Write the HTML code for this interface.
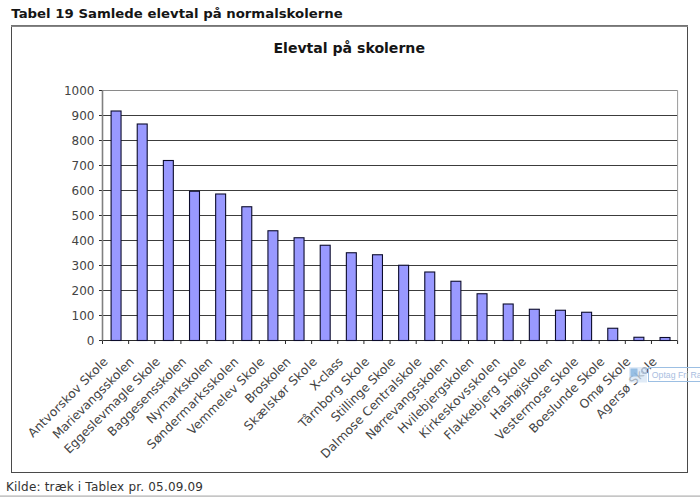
<!DOCTYPE html>
<html lang="da"><head><meta charset="utf-8"><title>Elevtal på skolerne</title>
<style>html,body{margin:0;padding:0;background:#fff;}body{width:700px;height:497px;overflow:hidden;position:relative;}svg{position:absolute;left:0;top:0;display:block;}text{font-family:'DejaVu Sans','Liberation Sans',sans-serif;}.lbl{font-size:12px;fill:#444444;}</style></head><body>
<svg width="700" height="497" viewBox="0 0 700 497">
<rect x="0" y="0" width="700" height="497" fill="#ffffff"/>
<text x="11.3" y="18.0" font-size="12.4" font-weight="bold" fill="#151515" textLength="331.5" lengthAdjust="spacingAndGlyphs">Tabel 19 Samlede elevtal på normalskolerne</text>
<rect x="11.5" y="25.5" width="676.0" height="447.0" fill="#fff" stroke="#4a4a4a" stroke-width="1"/>
<line x1="11.0" y1="26.1" x2="688.0" y2="26.1" stroke="#858585" stroke-width="1.7"/>
<text x="349.2" y="52.6" font-size="13.4" font-weight="bold" fill="#151515" text-anchor="middle" textLength="151.5" lengthAdjust="spacingAndGlyphs">Elevtal på skolerne</text>
<line x1="102.5" y1="340.50" x2="677.6" y2="340.50" stroke="#2a2a2a" stroke-width="1"/>
<line x1="99.0" y1="340.50" x2="102.5" y2="340.50" stroke="#2a2a2a" stroke-width="1"/>
<text class="lbl" x="94.5" y="344.90" text-anchor="end">0</text>
<line x1="102.5" y1="315.50" x2="677.6" y2="315.50" stroke="#3c3c3c" stroke-width="1"/>
<line x1="99.0" y1="315.50" x2="102.5" y2="315.50" stroke="#2a2a2a" stroke-width="1"/>
<text class="lbl" x="94.5" y="319.90" text-anchor="end">100</text>
<line x1="102.5" y1="290.50" x2="677.6" y2="290.50" stroke="#3c3c3c" stroke-width="1"/>
<line x1="99.0" y1="290.50" x2="102.5" y2="290.50" stroke="#2a2a2a" stroke-width="1"/>
<text class="lbl" x="94.5" y="294.90" text-anchor="end">200</text>
<line x1="102.5" y1="265.50" x2="677.6" y2="265.50" stroke="#3c3c3c" stroke-width="1"/>
<line x1="99.0" y1="265.50" x2="102.5" y2="265.50" stroke="#2a2a2a" stroke-width="1"/>
<text class="lbl" x="94.5" y="269.90" text-anchor="end">300</text>
<line x1="102.5" y1="240.50" x2="677.6" y2="240.50" stroke="#3c3c3c" stroke-width="1"/>
<line x1="99.0" y1="240.50" x2="102.5" y2="240.50" stroke="#2a2a2a" stroke-width="1"/>
<text class="lbl" x="94.5" y="244.90" text-anchor="end">400</text>
<line x1="102.5" y1="215.50" x2="677.6" y2="215.50" stroke="#3c3c3c" stroke-width="1"/>
<line x1="99.0" y1="215.50" x2="102.5" y2="215.50" stroke="#2a2a2a" stroke-width="1"/>
<text class="lbl" x="94.5" y="219.90" text-anchor="end">500</text>
<line x1="102.5" y1="190.50" x2="677.6" y2="190.50" stroke="#3c3c3c" stroke-width="1"/>
<line x1="99.0" y1="190.50" x2="102.5" y2="190.50" stroke="#2a2a2a" stroke-width="1"/>
<text class="lbl" x="94.5" y="194.90" text-anchor="end">600</text>
<line x1="102.5" y1="165.50" x2="677.6" y2="165.50" stroke="#3c3c3c" stroke-width="1"/>
<line x1="99.0" y1="165.50" x2="102.5" y2="165.50" stroke="#2a2a2a" stroke-width="1"/>
<text class="lbl" x="94.5" y="169.90" text-anchor="end">700</text>
<line x1="102.5" y1="140.50" x2="677.6" y2="140.50" stroke="#3c3c3c" stroke-width="1"/>
<line x1="99.0" y1="140.50" x2="102.5" y2="140.50" stroke="#2a2a2a" stroke-width="1"/>
<text class="lbl" x="94.5" y="144.90" text-anchor="end">800</text>
<line x1="102.5" y1="115.50" x2="677.6" y2="115.50" stroke="#3c3c3c" stroke-width="1"/>
<line x1="99.0" y1="115.50" x2="102.5" y2="115.50" stroke="#2a2a2a" stroke-width="1"/>
<text class="lbl" x="94.5" y="119.90" text-anchor="end">900</text>
<line x1="102.5" y1="90.50" x2="677.6" y2="90.50" stroke="#8a8a8a" stroke-width="1"/>
<line x1="99.0" y1="90.50" x2="102.5" y2="90.50" stroke="#2a2a2a" stroke-width="1"/>
<text class="lbl" x="94.5" y="94.90" text-anchor="end">1000</text>
<line x1="102.5" y1="90.5" x2="102.5" y2="340.5" stroke="#808080" stroke-width="1.6"/>
<line x1="677.6" y1="90.5" x2="677.6" y2="340.5" stroke="#9a9a9a" stroke-width="1"/>
<rect x="111.09" y="111.00" width="9.96" height="229.50" fill="#9999ff" stroke="#0c0c2c" stroke-width="1.1"/>
<rect x="137.23" y="124.00" width="9.96" height="216.50" fill="#9999ff" stroke="#0c0c2c" stroke-width="1.1"/>
<rect x="163.37" y="160.50" width="9.96" height="180.00" fill="#9999ff" stroke="#0c0c2c" stroke-width="1.1"/>
<rect x="189.52" y="191.25" width="9.96" height="149.25" fill="#9999ff" stroke="#0c0c2c" stroke-width="1.1"/>
<rect x="215.66" y="194.00" width="9.96" height="146.50" fill="#9999ff" stroke="#0c0c2c" stroke-width="1.1"/>
<rect x="241.80" y="206.75" width="9.96" height="133.75" fill="#9999ff" stroke="#0c0c2c" stroke-width="1.1"/>
<rect x="267.94" y="230.75" width="9.96" height="109.75" fill="#9999ff" stroke="#0c0c2c" stroke-width="1.1"/>
<rect x="294.08" y="237.75" width="9.96" height="102.75" fill="#9999ff" stroke="#0c0c2c" stroke-width="1.1"/>
<rect x="320.22" y="245.25" width="9.96" height="95.25" fill="#9999ff" stroke="#0c0c2c" stroke-width="1.1"/>
<rect x="346.36" y="252.75" width="9.96" height="87.75" fill="#9999ff" stroke="#0c0c2c" stroke-width="1.1"/>
<rect x="372.50" y="254.75" width="9.96" height="85.75" fill="#9999ff" stroke="#0c0c2c" stroke-width="1.1"/>
<rect x="398.64" y="265.25" width="9.96" height="75.25" fill="#9999ff" stroke="#0c0c2c" stroke-width="1.1"/>
<rect x="424.78" y="272.00" width="9.96" height="68.50" fill="#9999ff" stroke="#0c0c2c" stroke-width="1.1"/>
<rect x="450.92" y="281.25" width="9.96" height="59.25" fill="#9999ff" stroke="#0c0c2c" stroke-width="1.1"/>
<rect x="477.06" y="293.75" width="9.96" height="46.75" fill="#9999ff" stroke="#0c0c2c" stroke-width="1.1"/>
<rect x="503.21" y="304.00" width="9.96" height="36.50" fill="#9999ff" stroke="#0c0c2c" stroke-width="1.1"/>
<rect x="529.35" y="309.25" width="9.96" height="31.25" fill="#9999ff" stroke="#0c0c2c" stroke-width="1.1"/>
<rect x="555.49" y="310.25" width="9.96" height="30.25" fill="#9999ff" stroke="#0c0c2c" stroke-width="1.1"/>
<rect x="581.63" y="312.25" width="9.96" height="28.25" fill="#9999ff" stroke="#0c0c2c" stroke-width="1.1"/>
<rect x="607.77" y="328.25" width="9.96" height="12.25" fill="#9999ff" stroke="#0c0c2c" stroke-width="1.1"/>
<rect x="633.91" y="337.25" width="9.96" height="3.25" fill="#9999ff" stroke="#0c0c2c" stroke-width="1.1"/>
<rect x="660.05" y="337.50" width="9.96" height="3.00" fill="#9999ff" stroke="#0c0c2c" stroke-width="1.1"/>
<line x1="102.50" y1="340.5" x2="102.50" y2="344.0" stroke="#2a2a2a" stroke-width="1"/>
<line x1="128.64" y1="340.5" x2="128.64" y2="344.0" stroke="#2a2a2a" stroke-width="1"/>
<line x1="154.78" y1="340.5" x2="154.78" y2="344.0" stroke="#2a2a2a" stroke-width="1"/>
<line x1="180.92" y1="340.5" x2="180.92" y2="344.0" stroke="#2a2a2a" stroke-width="1"/>
<line x1="207.06" y1="340.5" x2="207.06" y2="344.0" stroke="#2a2a2a" stroke-width="1"/>
<line x1="233.20" y1="340.5" x2="233.20" y2="344.0" stroke="#2a2a2a" stroke-width="1"/>
<line x1="259.35" y1="340.5" x2="259.35" y2="344.0" stroke="#2a2a2a" stroke-width="1"/>
<line x1="285.49" y1="340.5" x2="285.49" y2="344.0" stroke="#2a2a2a" stroke-width="1"/>
<line x1="311.63" y1="340.5" x2="311.63" y2="344.0" stroke="#2a2a2a" stroke-width="1"/>
<line x1="337.77" y1="340.5" x2="337.77" y2="344.0" stroke="#2a2a2a" stroke-width="1"/>
<line x1="363.91" y1="340.5" x2="363.91" y2="344.0" stroke="#2a2a2a" stroke-width="1"/>
<line x1="390.05" y1="340.5" x2="390.05" y2="344.0" stroke="#2a2a2a" stroke-width="1"/>
<line x1="416.19" y1="340.5" x2="416.19" y2="344.0" stroke="#2a2a2a" stroke-width="1"/>
<line x1="442.33" y1="340.5" x2="442.33" y2="344.0" stroke="#2a2a2a" stroke-width="1"/>
<line x1="468.47" y1="340.5" x2="468.47" y2="344.0" stroke="#2a2a2a" stroke-width="1"/>
<line x1="494.61" y1="340.5" x2="494.61" y2="344.0" stroke="#2a2a2a" stroke-width="1"/>
<line x1="520.75" y1="340.5" x2="520.75" y2="344.0" stroke="#2a2a2a" stroke-width="1"/>
<line x1="546.90" y1="340.5" x2="546.90" y2="344.0" stroke="#2a2a2a" stroke-width="1"/>
<line x1="573.04" y1="340.5" x2="573.04" y2="344.0" stroke="#2a2a2a" stroke-width="1"/>
<line x1="599.18" y1="340.5" x2="599.18" y2="344.0" stroke="#2a2a2a" stroke-width="1"/>
<line x1="625.32" y1="340.5" x2="625.32" y2="344.0" stroke="#2a2a2a" stroke-width="1"/>
<line x1="651.46" y1="340.5" x2="651.46" y2="344.0" stroke="#2a2a2a" stroke-width="1"/>
<line x1="677.60" y1="340.5" x2="677.60" y2="344.0" stroke="#2a2a2a" stroke-width="1"/>
<text class="lbl" style="font-size:12.2px" text-anchor="end" textLength="106.8" lengthAdjust="spacing" transform="translate(108.57,362.50) rotate(-45)">Antvorskov Skole</text>
<text class="lbl" style="font-size:12.2px" text-anchor="end" textLength="109.0" lengthAdjust="spacing" transform="translate(134.71,362.50) rotate(-45)">Marievangsskolen</text>
<text class="lbl" style="font-size:12.2px" text-anchor="end" textLength="129.7" lengthAdjust="spacing" transform="translate(160.85,362.50) rotate(-45)">Eggeslevmagle Skole</text>
<text class="lbl" style="font-size:12.2px" text-anchor="end" textLength="105.2" lengthAdjust="spacing" transform="translate(186.99,362.50) rotate(-45)">Baggesensskolen</text>
<text class="lbl" style="font-size:12.2px" text-anchor="end" textLength="87.3" lengthAdjust="spacing" transform="translate(213.13,362.50) rotate(-45)">Nymarkskolen</text>
<text class="lbl" style="font-size:12.2px" text-anchor="end" textLength="123.4" lengthAdjust="spacing" transform="translate(239.28,362.50) rotate(-45)">Søndermarksskolen</text>
<text class="lbl" style="font-size:12.2px" text-anchor="end" textLength="103.3" lengthAdjust="spacing" transform="translate(265.42,362.50) rotate(-45)">Vemmelev Skole</text>
<text class="lbl" style="font-size:12.2px" text-anchor="end" textLength="58.8" lengthAdjust="spacing" transform="translate(291.56,362.50) rotate(-45)">Broskolen</text>
<text class="lbl" style="font-size:12.2px" text-anchor="end" textLength="97.1" lengthAdjust="spacing" transform="translate(317.70,362.50) rotate(-45)">Skælskør Skole</text>
<text class="lbl" style="font-size:12.2px" text-anchor="end" textLength="40.8" lengthAdjust="spacing" transform="translate(343.84,362.50) rotate(-45)">X-class</text>
<text class="lbl" style="font-size:12.2px" text-anchor="end" textLength="93.5" lengthAdjust="spacing" transform="translate(369.98,362.50) rotate(-45)">Tårnborg Skole</text>
<text class="lbl" style="font-size:12.2px" text-anchor="end" textLength="85.0" lengthAdjust="spacing" transform="translate(396.12,362.50) rotate(-45)">Stillinge Skole</text>
<text class="lbl" style="font-size:12.2px" text-anchor="end" textLength="136.6" lengthAdjust="spacing" transform="translate(422.26,362.50) rotate(-45)">Dalmose Centralskole</text>
<text class="lbl" style="font-size:12.2px" text-anchor="end" textLength="109.8" lengthAdjust="spacing" transform="translate(448.40,362.50) rotate(-45)">Nørrevangsskolen</text>
<text class="lbl" style="font-size:12.2px" text-anchor="end" textLength="101.5" lengthAdjust="spacing" transform="translate(474.54,362.50) rotate(-45)">Hvilebjergskolen</text>
<text class="lbl" style="font-size:12.2px" text-anchor="end" textLength="108.2" lengthAdjust="spacing" transform="translate(500.68,362.50) rotate(-45)">Kirkeskovsskolen</text>
<text class="lbl" style="font-size:12.2px" text-anchor="end" textLength="110.2" lengthAdjust="spacing" transform="translate(526.83,362.50) rotate(-45)">Flakkebjerg Skole</text>
<text class="lbl" style="font-size:12.2px" text-anchor="end" textLength="81.5" lengthAdjust="spacing" transform="translate(552.97,362.50) rotate(-45)">Hashøjskolen</text>
<text class="lbl" style="font-size:12.2px" text-anchor="end" textLength="111.0" lengthAdjust="spacing" transform="translate(579.11,362.50) rotate(-45)">Vestermose Skole</text>
<text class="lbl" style="font-size:12.2px" text-anchor="end" textLength="100.9" lengthAdjust="spacing" transform="translate(605.25,362.50) rotate(-45)">Boeslunde Skole</text>
<text class="lbl" style="font-size:12.2px" text-anchor="end" textLength="66.8" lengthAdjust="spacing" transform="translate(631.39,362.50) rotate(-45)">Omø Skole</text>
<text class="lbl" style="font-size:12.2px" text-anchor="end" textLength="80.1" lengthAdjust="spacing" transform="translate(657.53,362.50) rotate(-45)">Agersø Skole</text>
<text x="6.0" y="490.6" font-size="12" fill="#333333" textLength="197" lengthAdjust="spacing">Kilde: træk i Tablex pr. 05.09.09</text>
<rect x="0" y="495.3" width="700" height="2" fill="#c6c6c6"/>
<g>
<rect x="629" y="367" width="18" height="15.5" fill="#d3e2f3" fill-opacity="0.7"/>
<rect x="630.5" y="368.5" width="7" height="8" fill="#7fb0de" fill-opacity="0.75"/>
<circle cx="644" cy="371" r="2.6" fill="none" stroke="#a9bcd6" stroke-width="1"/>
<rect x="648.5" y="367.5" width="60" height="14" fill="#ffffff" fill-opacity="0.15" stroke="#9cbfe3" stroke-width="1"/>
<text transform="translate(651.8,377.6) scale(0.89,1)" font-size="9.8" fill="#a9bedf" style="font-family:'Liberation Sans',sans-serif">Optag Fri Ra</text>
</g>
</svg></body></html>
